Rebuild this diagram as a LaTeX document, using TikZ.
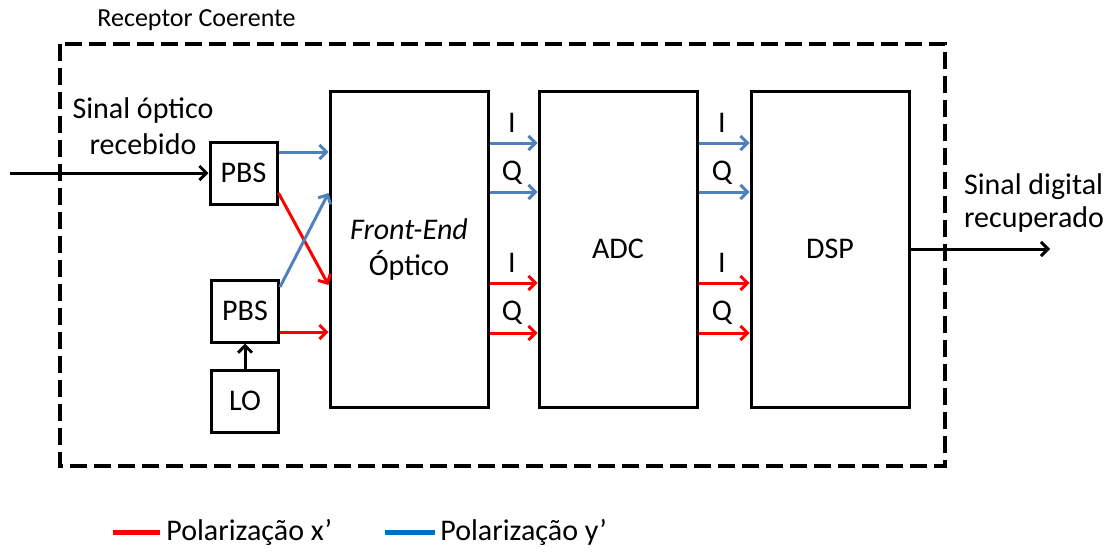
\documentclass[tikz,border=0pt]{standalone}
\usepackage{fontspec}
\setmainfont{Carlito}
\usetikzlibrary{arrows.meta,calc,positioning}
\definecolor{azulpol}{RGB}{79,129,189}
\definecolor{azullegenda}{RGB}{0,112,192}
\definecolor{vermelhopol}{RGB}{255,0,0}

\begin{document}
\begin{tikzpicture}[x=0.5pt, y=-0.5pt,
    every node/.style={font=\fontsize{15}{18}\selectfont},
    bloco/.style={rectangle, draw=black, line width=1.5pt, fill=white,
                  inner sep=0pt, align=center},
    pbsbox/.style={bloco, minimum width=33.5pt, minimum height=31pt},
    grande/.style={bloco, minimum width=79pt, minimum height=158pt},
    seta/.style={-{Straight Barb[length=3.5pt,width=7pt]}, line width=1.5pt},
    setax/.style={seta, color=vermelhopol},
    setay/.style={seta, color=azulpol},
    rotulo/.style={inner sep=0pt}
  ]
    \useasboundingbox (0,0) rectangle (1107,552);

    % caixa do receptor
    \draw[line width=2pt, dash pattern=on 8.5pt off 3.5pt] (60,44) rectangle (945,466);
    \node[rotulo, anchor=west, font=\fontsize{13}{16}\selectfont] (titulo) at (97,20) {Receptor Coerente};

    % blocos
    \node[pbsbox] (pbsa) at (243.5,173) {PBS};
    \node[pbsbox] (pbsb) at (245,311) {PBS};
    \node[pbsbox] (lo) at (245,401) {LO};
    \node[grande] (frontend) at (409,249) {\textit{Front-End}\\Óptico};
    \node[grande] (adc) at (618,249) {ADC};
    \node[grande] (dsp) at (830,249) {DSP};

    % entrada e saida
    \coordinate (entrada) at (10,173);
    \coordinate (saida) at (1050,249);
    \node[rotulo, align=center] (rxlabel) at (143,126) {Sinal óptico\\recebido};
    \node[rotulo, align=left, font=\fontsize{15}{16.5}\selectfont] (txlabel) at (1034,203) {Sinal digital\\recuperado};
    \draw[seta] (entrada) -- (pbsa.west);
    \draw[seta] (dsp.east) -- (saida);
    \draw[seta] (lo.north) -- (pbsb.south);

    % PBS -> front-end
    \draw[setay] ($(pbsa.east)+(0,-21)$) -- ($(pbsa.east -| frontend.west)+(0,-21)$);
    \draw[setax] ($(pbsa.east)+(0,20)$) -- ($(frontend.west)+(0,36)$);
    \draw[setay] ($(pbsb.east)+(0,-24)$) -- ($(frontend.west)+(0,-56)$);
    \draw[setax] ($(pbsb.east)+(0,21)$) -- ($(pbsb.east -| frontend.west)+(0,21)$);

    % saidas I/Q
    \foreach \de/\para/\lx in {frontend/adc/512, adc/dsp/722}{
      \draw[setay] ($(\de.east)+(0,-106)$) -- ($(\para.west)+(0,-106)$);
      \draw[setay] ($(\de.east)+(0,-57)$) -- ($(\para.west)+(0,-57)$);
      \draw[setax] ($(\de.east)+(0,34)$) -- ($(\para.west)+(0,34)$);
      \draw[setax] ($(\de.east)+(0,84)$) -- ($(\para.west)+(0,84)$);
      \node[rotulo] at (\lx,123) {I};
      \node[rotulo] at (\lx,173) {Q};
      \node[rotulo] at (\lx,263) {I};
      \node[rotulo] at (\lx,313) {Q};
    }

    % legenda
    \draw[line width=2.5pt, vermelhopol] (113,532) -- (160,532);
    \node[rotulo, anchor=west] (legx) at (166,532) {Polarização x’};
    \draw[line width=2.5pt, azullegenda] (385,532) -- (435,532);
    \node[rotulo, anchor=west] (legy) at (440,532) {Polarização y’};
  \end{tikzpicture}
\end{document}
